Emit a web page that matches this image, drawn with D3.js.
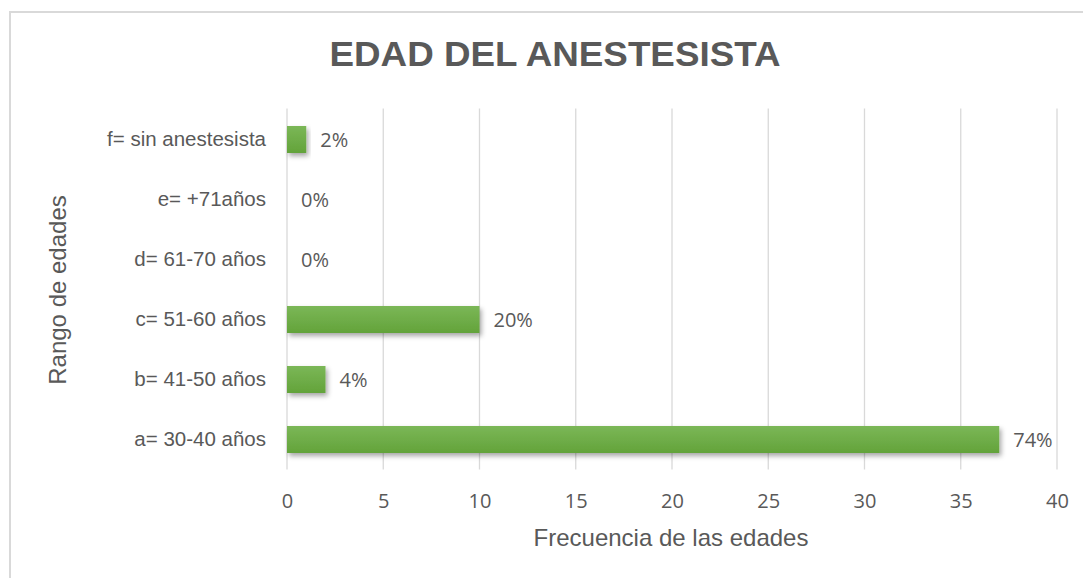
<!DOCTYPE html>
<html>
<head>
<meta charset="utf-8">
<script src="https://cdn.jsdelivr.net/npm/d3@7"></script>
<style>
  body { margin: 0; background: #fff; }
  svg { display: block; }
</style>
</head>
<body>
<div id="chart"></div>
<script>
// datos del gráfico
const categorias = ["f= sin anestesista", "e= +71años", "d= 61-70 años", "c= 51-60 años", "b= 41-50 años", "a= 30-40 años"];
const frecuencias = [1, 0, 0, 10, 2, 37];
const porcentajes = ["2%", "0%", "0%", "20%", "4%", "74%"];
const ticksX = [0, 5, 10, 15, 20, 25, 30, 35, 40];

const W = 1083, H = 578;
const margin = { left: 287, right: 26, top: 109.5, bottom: 108.5 };

const svg = d3.select("#chart").append("svg")
  .attr("width", W)
  .attr("height", H);

// degradado y sombra de las barras
const defs = svg.append("defs");
const grad = defs.append("linearGradient")
  .attr("id", "verde")
  .attr("x1", 0).attr("y1", 0).attr("x2", 0).attr("y2", 1);
grad.append("stop").attr("offset", "0%").attr("stop-color", "#7bb757");
grad.append("stop").attr("offset", "100%").attr("stop-color", "#63a33a");

const sombra = defs.append("filter").attr("id", "sombra")
  .attr("x", "-10%").attr("y", "-30%").attr("width", "130%").attr("height", "180%");
sombra.append("feDropShadow")
  .attr("dx", 2).attr("dy", 3).attr("stdDeviation", 2.5)
  .attr("flood-color", "#000").attr("flood-opacity", 0.35);

// marco del gráfico
svg.append("rect")
  .attr("x", 10).attr("y", 12)
  .attr("width", W).attr("height", H)
  .attr("fill", "none")
  .attr("stroke", "#d9d9d9")
  .attr("stroke-width", 2);

const x = d3.scaleLinear().domain([0, 40]).range([margin.left, W - margin.right]);
const y = d3.scaleBand().domain(categorias)
  .range([margin.top, H - margin.bottom])
  .paddingInner(0.55).paddingOuter(0.275);

// líneas de cuadrícula
svg.append("g")
  .selectAll("line")
  .data(ticksX)
  .join("line")
  .attr("x1", d => x(d)).attr("x2", d => x(d))
  .attr("y1", margin.top - 1).attr("y2", H - margin.bottom)
  .attr("stroke", "#d9d9d9")
  .attr("stroke-width", 1.3);

// eje x
const ejeX = svg.append("g")
  .attr("transform", `translate(0,${H - margin.bottom})`)
  .call(d3.axisBottom(x).tickValues(ticksX).tickSize(0).tickPadding(24));
ejeX.select(".domain").remove();
ejeX.selectAll("text")
  .attr("fill", "#595959")
  .style("font-family", "'Open Sans', 'Noto Sans', sans-serif")
  .style("font-size", "20px");

// eje y
const ejeY = svg.append("g")
  .attr("transform", `translate(${margin.left},0)`)
  .call(d3.axisLeft(y).tickSize(0).tickPadding(21));
ejeY.select(".domain").remove();
ejeY.selectAll("text")
  .attr("fill", "#595959")
  .style("font-family", "'Liberation Sans', Arial, sans-serif")
  .style("font-size", "20.5px");

// barras
svg.append("g")
  .selectAll("rect")
  .data(categorias)
  .join("rect")
  .attr("x", x(0))
  .attr("y", (d, i) => y(d))
  .attr("width", (d, i) => x(frecuencias[i]) - x(0))
  .attr("height", y.bandwidth())
  .attr("fill", "url(#verde)")
  .attr("filter", (d, i) => frecuencias[i] > 0 ? "url(#sombra)" : null);

// etiquetas de porcentaje
svg.append("g")
  .selectAll("text")
  .data(categorias)
  .join("text")
  .attr("x", (d, i) => x(frecuencias[i]) + 14)
  .attr("y", d => y(d) + y.bandwidth() / 2)
  .attr("dy", "0.35em")
  .attr("fill", "#595959")
  .style("font-family", "'Open Sans', 'Noto Sans', sans-serif")
  .style("font-size", "20px")
  .text((d, i) => porcentajes[i]);

// título
svg.append("text")
  .attr("x", 555).attr("y", 66)
  .attr("text-anchor", "middle")
  .attr("fill", "#595959")
  .attr("textLength", 451)
  .attr("lengthAdjust", "spacingAndGlyphs")
  .style("font-family", "'Liberation Sans', Arial, sans-serif")
  .style("font-weight", "bold")
  .style("font-size", "34.5px")
  .text("EDAD DEL ANESTESISTA");

// títulos de los ejes
svg.append("text")
  .attr("x", 671).attr("y", 546)
  .attr("text-anchor", "middle")
  .attr("fill", "#595959")
  .style("font-family", "'Liberation Sans', Arial, sans-serif")
  .style("font-size", "24px")
  .text("Frecuencia de las edades");

svg.append("text")
  .attr("transform", "translate(66,290) rotate(-90)")
  .attr("text-anchor", "middle")
  .attr("fill", "#595959")
  .style("font-family", "'Liberation Sans', Arial, sans-serif")
  .style("font-size", "24px")
  .text("Rango de edades");
</script>
</body>
</html>
